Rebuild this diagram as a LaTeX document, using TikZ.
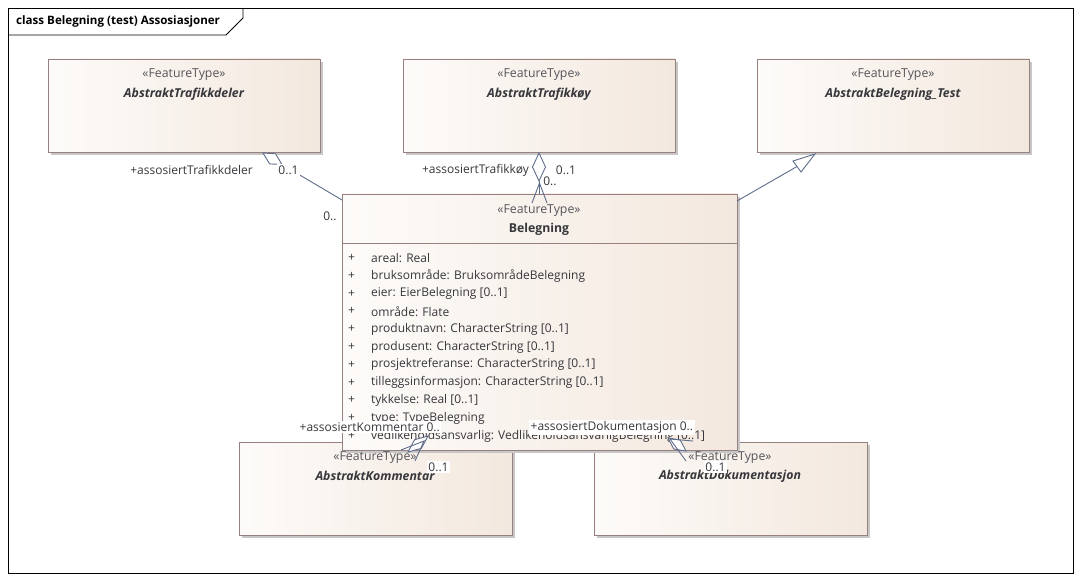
\documentclass[tikz,border=0pt]{standalone}
\usepackage{fontspec}
\setmainfont{Open Sans}
\usetikzlibrary{shadows}
\definecolor{boxL}{RGB}{253,251,249}
\definecolor{boxR}{RGB}{243,232,222}
\definecolor{boxD}{RGB}{150,128,128}
\definecolor{connC}{RGB}{95,108,138}
\definecolor{txt}{RGB}{55,55,60}
\definecolor{stereoC}{RGB}{85,85,90}
\tikzset{
  cls/.style={draw=boxD, line width=0.9pt, left color=boxL, right color=boxR,
    anchor=north west, inner sep=0pt, outer sep=0pt,
    drop shadow={shadow xshift=3pt, shadow yshift=-3pt, fill=black!22, opacity=1}},
  ster/.style={font=\fontsize{12.3}{14}\selectfont, text=stereoC, inner sep=0pt},
  aname/.style={font=\fontsize{12.3}{14}\selectfont\bfseries\itshape, text=txt, inner sep=0pt},
  cname/.style={font=\fontsize{12.3}{14}\selectfont\bfseries, text=txt, inner sep=0pt},
  attr/.style={font=\fontsize{12}{14}\selectfont, text=txt, anchor=west, inner sep=0pt},
  lab/.style={font=\fontsize{12}{14}\selectfont, text=txt, inner sep=1.2pt, fill=white},
  role/.style={font=\fontsize{12}{14}\selectfont, text=txt, inner sep=0pt, anchor=east},
  conn/.style={draw=connC, line width=0.9pt, line join=miter},
  dia/.style={conn, fill=white},
}
\begin{document}
\begin{tikzpicture}[x=1pt,y=-1pt]
\useasboundingbox (0,0) rectangle (1082,580);
% frame
\node[draw=black, line width=0.8pt, anchor=north west, minimum width=1065pt, minimum height=565pt, inner sep=0pt] (frame) at (8,8) {};
\draw[line width=0.8pt] (8,35) -- (226,35) -- (243,18) -- (243,8);
\node[font=\fontsize{11.6}{13}\selectfont\bfseries, anchor=west, inner sep=0pt] (title) at (16,21.5) {class Belegning (test) Assosiasjoner};

% classes (lower ones first, Belegning on top)
\node[cls, minimum width=273pt, minimum height=93pt] (kom) at (239,442) {};
\node[cls, minimum width=273pt, minimum height=93pt] (dok) at (594,442) {};
\node[cls, minimum width=272pt, minimum height=93pt] (tdl) at (48,59) {};
\node[cls, minimum width=272pt, minimum height=93pt] (toy) at (403,59) {};
\node[cls, minimum width=272pt, minimum height=93pt] (btest) at (757,59) {};
\node[cls, minimum width=395pt, minimum height=256pt] (bel) at (342,194) {};
\draw[boxD, line width=0.9pt] (342,243.5) -- (737,243.5);

% class texts
\node[ster] (tdls) at (184,75) {«FeatureType»};
\node[aname] (tdln) at (184,94) {AbstraktTrafikkdeler};
\node[ster] (toys) at (539,75) {«FeatureType»};
\node[aname] (toyn) at (539,94) {AbstraktTrafikkøy};
\node[ster] (btests) at (893,75) {«FeatureType»};
\node[aname] (btestn) at (893,94) {AbstraktBelegning\_Test};
\node[ster] (bels) at (539,211) {«FeatureType»};
\node[cname] (beln) at (539,229) {Belegning};
\node[ster] (koms) at (375,458) {«FeatureType»};
\node[aname] (komn) at (375,476) {AbstraktKommentar};
\node[ster] (doks) at (730,458) {«FeatureType»};
\node[aname] (dokn) at (730,476) {AbstraktDokumentasjon};

% attributes
\foreach \t [count=\i from 0] in {
  {areal: Real},
  {bruksområde: BruksområdeBelegning},
  {eier: EierBelegning [0..1]},
  {område: Flate},
  {produktnavn: CharacterString [0..1]},
  {produsent: CharacterString [0..1]},
  {prosjektreferanse: CharacterString [0..1]},
  {tilleggsinformasjon: CharacterString [0..1]},
  {tykkelse: Real [0..1]},
  {type: TypeBelegning},
  {vedlikeholdsansvarlig: VedlikeholdsansvarligBelegning [0..1]}} {
  \node[attr] (p\i) at (348,258+17.8*\i) {+};
  \node[attr] (at\i) at (371,258+17.8*\i) {\t};
}

% connector 1: Belegning -- AbstraktTrafikkdeler (aggregation)
\coordinate (c1t) at (263,153);
\coordinate (c1e) at (282,164.5);
\coordinate (c1b) at (342,200);
\draw[conn] (c1e) -- (c1b);
\draw[dia] (c1t) -- (275.6,153.8) -- (c1e) -- (269.6,163.9) -- cycle;

% connector 2: Belegning -- AbstraktTrafikkøy (aggregation)
\coordinate (c2t) at (539,153);
\coordinate (c2e) at (539,181);
\coordinate (c2b) at (539,194);
\draw[conn] (c2e) -- (c2b);
\draw[dia] (c2t) -- (545.5,167) -- (c2e) -- (532.5,167) -- cycle;
\draw[conn] (532,203) -- (539.5,183) -- (547,203);

% generalization: Belegning -> AbstraktBelegning_Test
\coordinate (g1b) at (737,201);
\coordinate (g1t) at (815,154);
\coordinate (g1m) at (797,166.5);
\draw[conn] (g1b) -- (g1m);
\draw[dia] (g1t) -- (793,161) -- (801,172) -- cycle;

% connector 3: Belegning -- AbstraktKommentar
\coordinate (c3t) at (428,436);
\coordinate (c3e) at (408,452);
\draw[dia] (c3t) -- (421.4,448.3) -- (c3e) -- (414.6,439.7) -- cycle;
\draw[conn] (401,450) -- (424,441) -- (415,461);

% connector 4: Belegning -- AbstraktDokumentasjon
\coordinate (c4t) at (668,438);
\coordinate (c4e) at (686,451);
\draw[dia] (c4t) -- (680.2,440) -- (c4e) -- (673.8,449) -- cycle;
\draw[conn] (693,441) -- (670,439) -- (686,461);

% role and multiplicity labels
\node[role] (r1) at (253,170) {+assosiertTrafikkdeler};
\node[lab] (m1a) at (288.5,170) {0..1};
\node[lab, fill=none] (m1b) at (330,216) {0..};
\node[role] (r2) at (529,170) {+assosiertTrafikkøy};
\node[lab, fill=none] (m2a) at (566,170) {0..1};
\node[lab] (m2b) at (550,181) {0..};
\node[lab, anchor=west, inner sep=1.5pt] (r3) at (298,427) {+assosiertKommentar 0..};
\node[lab] (m3) at (438.5,467) {0..1};
\node[lab, anchor=west, inner sep=1.5pt] (r4) at (529,427) {+assosiertDokumentasjon 0..};
\node[lab] (m4) at (715.5,467) {0..1};
\end{tikzpicture}
\end{document}
